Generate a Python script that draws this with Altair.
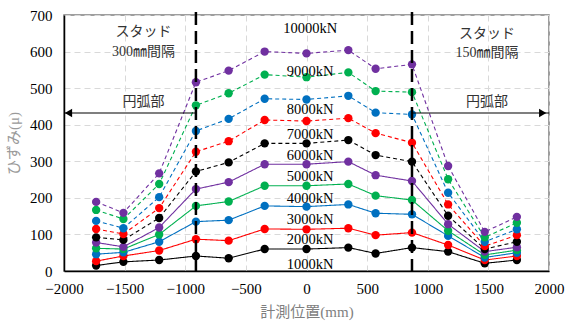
import altair as alt
import pandas as pd

# measurement positions (mm)
positions = [-1735, -1510, -1215, -912, -642, -345, 0, 345, 570, 870, 1168, 1470, 1735]

loads = ["1000kN", "2000kN", "3000kN", "4000kN", "5000kN",
         "6000kN", "7000kN", "8000kN", "9000kN", "10000kN"]

strain_1000 = [15, 25, 30, 41, 35, 60, 60, 64, 48, 64, 53, 21, 30]
strain_2000 = [27, 41, 56, 87, 83, 115, 114, 117, 98, 105, 71, 30, 41]
strain_3000 = [46, 51, 80, 135, 139, 178, 176, 182, 158, 155, 96, 37, 50]
strain_4000 = [62, 60, 100, 178, 190, 233, 233, 238, 206, 194, 110, 44, 57]
strain_5000 = [78, 66, 119, 224, 243, 292, 292, 299, 262, 246, 128, 53, 65]
strain_6000 = [92, 85, 145, 272, 297, 349, 349, 358, 317, 299, 151, 60, 80]
strain_7000 = [115, 101, 172, 326, 355, 413, 410, 418, 377, 351, 182, 68, 98]
strain_8000 = [137, 117, 202, 383, 416, 471, 469, 479, 433, 428, 214, 80, 114]
strain_9000 = [167, 142, 238, 453, 486, 537, 530, 543, 492, 489, 251, 92, 132]
strain_10000 = [189, 159, 267, 516, 548, 600, 595, 604, 553, 565, 287, 107, 148]

series = [strain_1000, strain_2000, strain_3000, strain_4000, strain_5000,
          strain_6000, strain_7000, strain_8000, strain_9000, strain_10000]

colors = ["#000000", "#FF0000", "#0070C0", "#00B050", "#7030A0",
          "#000000", "#FF0000", "#0070C0", "#00B050", "#7030A0"]
styles = ["solid"] * 5 + ["dashed"] * 5

# load labels placed near the centre span
label_x = [30] * 10
label_y = [16, 85, 139, 196, 258, 314, 372, 440, 545, 661]

# boundaries between stud regions and arc region arrows
boundary_x = [-912, 870]
arrow_y = 432

x_ticks = [-2000, -1500, -1000, -500, 0, 500, 1000, 1500, 2000]
y_ticks = [0, 100, 200, 300, 400, 500, 600, 700]

rows = []
for load, vals, st in zip(loads, series, styles):
    for p, v in zip(positions, vals):
        rows.append({"pos": p, "strain": v, "load": load, "style": st})
df = pd.DataFrame(rows)

serif = "Liberation Serif, Noto Sans CJK JP"

x_scale = alt.Scale(domain=[-2000, 2000], nice=False)
y_scale = alt.Scale(domain=[0, 700], nice=False)
color_scale = alt.Scale(domain=loads, range=colors)
dash_scale = alt.Scale(domain=["solid", "dashed"], range=[[1, 0], [4, 3]])

x_axis = alt.Axis(values=x_ticks, grid=True, format="d",
                  gridDash=[6, 4], gridColor="#d9d9d9", ticks=False,
                  labelPadding=10, domainColor="#000000", domainWidth=1.5,
                  titleColor="#7f7f7f", titleFontSize=15, titleY=33,
                  labelFlush=False, labelOverlap=False)
y_axis = alt.Axis(values=y_ticks, grid=True, format="d",
                  gridDash=[6, 4], gridColor="#d9d9d9", ticks=False,
                  labelPadding=12, domainColor="#000000", domainWidth=1.5,
                  titleColor="#9a9a9a", titleFontSize=15, titlePadding=8,
                  labelFlush=False, labelOverlap=False)


def qx(field):
    return alt.X(field, type="quantitative", scale=x_scale, axis=x_axis,
                 title="計測位置(mm)")


def qy(field):
    return alt.Y(field, type="quantitative", scale=y_scale, axis=y_axis,
                 title="ひずみ(μ)")


base = alt.Chart(df)

lines = base.mark_line(strokeWidth=1.1).encode(
    x=qx("pos"), y=qy("strain"),
    color=alt.Color("load:N", scale=color_scale, legend=None),
    strokeDash=alt.StrokeDash("style:N", scale=dash_scale, legend=None),
    detail="load:N",
)

points = base.mark_circle(size=70, opacity=1).encode(
    x=qx("pos"), y=qy("strain"),
    color=alt.Color("load:N", scale=color_scale, legend=None),
)

labels_df = pd.DataFrame({"x": label_x, "y": label_y, "text": loads})
labels = alt.Chart(labels_df).mark_text(font=serif, fontSize=14.5, color="#000000").encode(
    x=qx("x"), y=qy("y"), text="text:N")

bound_df = pd.DataFrame({"x": boundary_x})
bounds = alt.Chart(bound_df).mark_rule(color="#000000", strokeWidth=2.5,
                                       strokeDash=[13, 6]).encode(
    x=qx("x"), y=alt.value(-3), y2=alt.value(262))

arrow_df = pd.DataFrame({"x": [-2000, 870], "x2": [-912, 2000], "y": [arrow_y, arrow_y]})
arrow_lines = alt.Chart(arrow_df).mark_rule(color="#000000", strokeWidth=1.2).encode(
    x=qx("x"), x2="x2:Q", y=qy("y"))

head_df = pd.DataFrame({"x": [-1963, 1948], "y": [arrow_y, arrow_y],
                        "shape": ["triangle-left", "triangle-right"]})
heads = alt.Chart(head_df).mark_point(filled=True, size=70, color="#000000", opacity=1).encode(
    x=qx("x"), y=qy("y"),
    shape=alt.Shape("shape:N", scale=alt.Scale(domain=["triangle-left", "triangle-right"],
                                               range=["triangle-left", "triangle-right"]),
                    legend=None))

notes_df = pd.DataFrame({
    "x": [-1344, -1344, -1344, 1489, 1489, 1489],
    "y": [653, 599, 462, 648, 596, 462],
    "text": ["スタッド", "300㎜間隔", "円弧部", "スタッド", "150㎜間隔", "円弧部"],
})
notes = alt.Chart(notes_df).mark_text(font=serif, fontSize=14, color="#333333").encode(
    x=qx("x"), y=qy("y"), text="text:N")

chart = alt.layer(lines, points, labels, arrow_lines, heads, bounds, notes).properties(
    width=485, height=256,
    autosize=alt.AutoSizeParams(type="none"),
    padding={"left": 64, "top": 15, "right": 19, "bottom": 54},
).configure_axis(
    labelFont=serif, labelFontSize=15, labelColor="#000000",
    titleFont=serif, titleFontWeight="normal",
).configure_view(
    stroke="#7f7f7f", strokeWidth=1.5,
)

chart.save("out.html", embed_options={"renderer": "svg", "actions": False})
